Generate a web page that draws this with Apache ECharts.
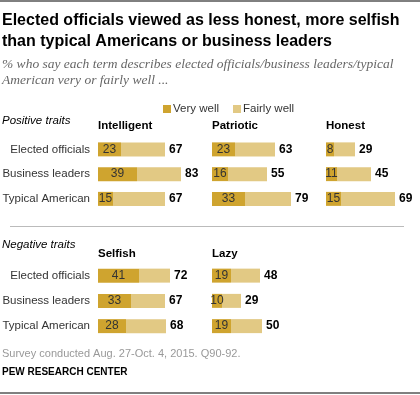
<!DOCTYPE html>
<html><head><meta charset="utf-8">
<script src="https://cdn.jsdelivr.net/npm/echarts@6/dist/echarts.min.js"></script>
<style>html,body{margin:0;padding:0;background:#fff}#c{width:420px;height:395px}</style>
</head><body><div id="c"></div>
<script>
const groups = ['Elected officials', 'Business leaders', 'Typical American'];
const traits = ['Intelligent', 'Patriotic', 'Honest', 'Selfish', 'Lazy'];
const veryWell = {
  Intelligent: [23, 39, 15],
  Patriotic:   [23, 16, 33],
  Honest:      [8, 11, 15],
  Selfish:     [41, 33, 28],
  Lazy:        [19, 10, 19]
};
const totalWell = {
  Intelligent: [67, 83, 67],
  Patriotic:   [63, 55, 79],
  Honest:      [29, 45, 69],
  Selfish:     [72, 67, 68],
  Lazy:        [48, 29, 50]
};
const legendNames = ['Very well', 'Fairly well'];

const DARK = '#CFA42F', LIGHT = '#E2C984';
const FONT = '"Liberation Sans", Arial, sans-serif';

const layout = {
  Intelligent: {left: 98, top: 137, h: 74.25, labels: true},
  Patriotic:   {left: 212, top: 137, h: 74.25},
  Honest:      {left: 326, top: 137, h: 74.25},
  Selfish:     {left: 98, top: 263, h: 75.75, labels: true},
  Lazy:        {left: 212, top: 263, h: 75.75}
};

const grids = [], xAxes = [], yAxes = [], series = [];
traits.forEach((t, i) => {
  const L = layout[t];
  grids.push({left: L.left, top: L.top, width: 100, height: L.h, containLabel: false, outerBoundsMode: 'none'});
  xAxes.push({type: 'value', gridIndex: i, min: 0, max: 100, show: false});
  yAxes.push({type: 'category', gridIndex: i, data: groups, inverse: true,
    axisLine: {show: false}, axisTick: {show: false}, splitLine: {show: false},
    axisLabel: {show: !!L.labels, margin: 8, fontFamily: FONT, fontSize: 11.5, color: '#333'}});
  const vw = veryWell[t], tot = totalWell[t];
  series.push({
    name: legendNames[0], type: 'bar', stack: 's' + i, xAxisIndex: i, yAxisIndex: i,
    barWidth: 14, itemStyle: {color: DARK}, data: vw,
    label: {show: true, position: 'inside', color: '#333', fontFamily: FONT, fontSize: 12},
    silent: true
  });
  series.push({
    name: legendNames[1], type: 'bar', stack: 's' + i, xAxisIndex: i, yAxisIndex: i,
    barWidth: 14, itemStyle: {color: LIGHT}, data: tot.map((v, k) => v - vw[k]),
    label: {show: true, position: 'right', distance: 4, color: '#000', fontWeight: 'bold',
      fontFamily: FONT, fontSize: 12, formatter: p => tot[p.dataIndex]},
    silent: true
  });
});

const txt = (x, y, s, style) => ({type: 'text', left: x, top: y, silent: true,
  style: Object.assign({text: s, fontFamily: FONT, fill: '#000'}, style)});

const headerStyle = {fontSize: 11.5, fontWeight: 'bold'};
const SERIF = '"Liberation Serif", Georgia, serif';
const graphic = [
  {type: 'line', shape: {x1: 0, y1: 1, x2: 420, y2: 1}, style: {stroke: '#000', lineWidth: 1}},
  txt(2, 13, 'Elected officials viewed as less honest, more selfish', {fontSize: 16, fontWeight: 'bold'}),
  txt(2, 34, 'than typical Americans or business leaders', {fontSize: 16, fontWeight: 'bold'}),
  txt(2, 57, '% who say each term describes elected officials/business leaders/typical', {fontSize: 13.5, fontStyle: 'italic', fontFamily: SERIF, fill: '#666'}),
  txt(2, 73, 'American very or fairly well ...', {fontSize: 13.5, fontStyle: 'italic', fontFamily: SERIF, fill: '#666'}),
  txt(2, 115, 'Positive traits', {fontSize: 11.5, fontStyle: 'italic'}),
  txt(98, 120, 'Intelligent', headerStyle),
  txt(212, 120, 'Patriotic', headerStyle),
  txt(326, 120, 'Honest', headerStyle),
  {type: 'line', shape: {x1: 10, y1: 226.5, x2: 404, y2: 226.5}, style: {stroke: '#bbb', lineWidth: 1}},
  txt(2, 239, 'Negative traits', {fontSize: 11.5, fontStyle: 'italic'}),
  txt(98, 248, 'Selfish', headerStyle),
  txt(212, 248, 'Lazy', headerStyle),
  txt(2, 348, 'Survey conducted Aug. 27-Oct. 4, 2015. Q90-92.', {fontSize: 11, fill: '#999'}),
  txt(2, 367, 'PEW RESEARCH CENTER', {fontSize: 10, fontWeight: 'bold'}),
  {type: 'line', shape: {x1: 0, y1: 393, x2: 420, y2: 393}, style: {stroke: '#000', lineWidth: 1}}
];

const chart = echarts.init(document.getElementById('c'), null, {renderer: 'canvas'});
chart.setOption({
  animation: false,
  legend: {data: legendNames, left: 158, top: 98, itemWidth: 8, itemHeight: 8, itemGap: 14,
    icon: 'rect', selectedMode: false,
    textStyle: {fontFamily: FONT, fontSize: 11.5, color: '#333', padding: [0, 0, 0, -3]}},
  grid: grids, xAxis: xAxes, yAxis: yAxes, series, graphic
});
</script></body></html>
